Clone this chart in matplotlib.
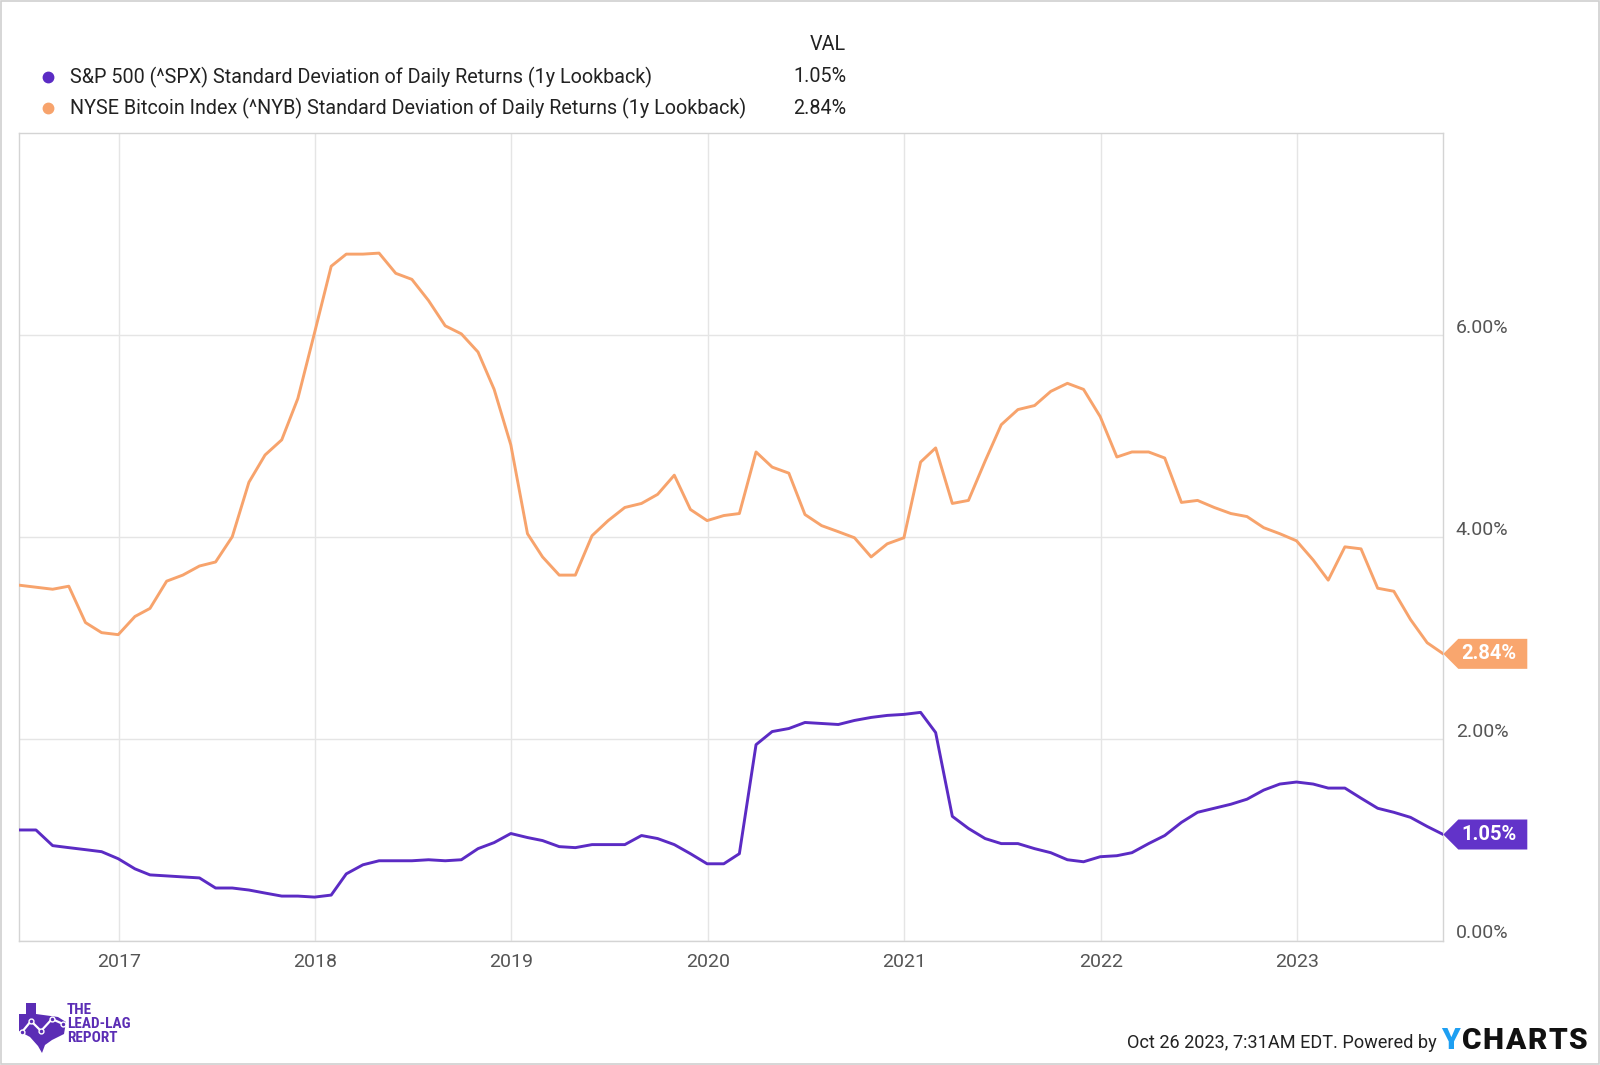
import matplotlib
matplotlib.use('Agg')
import matplotlib.pyplot as plt
import matplotlib.dates as mdates
from matplotlib.patches import Polygon, Rectangle
from matplotlib.lines import Line2D
from matplotlib.transforms import ScaledTranslation
import pandas as pd

plt.rcParams['font.family'] = ['Roboto', 'DejaVu Sans']

# ---------------- data ----------------
dates = pd.date_range('2016-06-30', '2023-09-30', freq='ME')

spx = [1.095, 1.095, 0.94, 0.92, 0.90, 0.88, 0.81, 0.71, 0.65, 0.64, 0.63, 0.62, 0.52, 0.52, 0.50, 0.47, 0.44, 0.44, 0.43, 0.45, 0.66, 0.75,
       0.79, 0.79, 0.79, 0.80, 0.79, 0.80, 0.91, 0.97, 1.06, 1.02, 0.99, 0.93, 0.92, 0.95, 0.95, 0.95, 1.04, 1.01, 0.95, 0.86, 0.76,
       0.76, 0.86, 1.94, 2.07, 2.10, 2.16, 2.15, 2.14, 2.18, 2.21, 2.23, 2.24, 2.26, 2.06, 1.23, 1.11, 1.01, 0.96, 0.96, 0.91, 0.87, 0.80,
       0.78, 0.83, 0.84, 0.87, 0.96, 1.04, 1.17, 1.27, 1.31, 1.35, 1.40, 1.49, 1.55, 1.57, 1.55, 1.51, 1.51, 1.41, 1.31, 1.27, 1.22, 1.13, 1.05]

nyb = [3.52, 3.50, 3.48, 3.51, 3.15, 3.05, 3.03, 3.21, 3.29, 3.56, 3.62, 3.71, 3.75, 4.00, 4.54, 4.81, 4.96, 5.37, 6.02, 6.68, 6.80, 6.80,
       6.81, 6.61, 6.55, 6.34, 6.09, 6.01, 5.83, 5.46, 4.91, 4.03, 3.80, 3.62, 3.62, 4.01, 4.16, 4.29, 4.33, 4.42, 4.61, 4.27, 4.16,
       4.21, 4.23, 4.84, 4.69, 4.63, 4.22, 4.11, 4.05, 3.99, 3.80, 3.93, 3.99, 4.74, 4.88, 4.33, 4.36, 4.75, 5.11, 5.26, 5.30, 5.44, 5.52,
       5.46, 5.19, 4.79, 4.84, 4.84, 4.78, 4.34, 4.36, 4.29, 4.23, 4.20, 4.09, 4.03, 3.96, 3.77, 3.57, 3.90, 3.88, 3.49, 3.46, 3.18, 2.95, 2.84]

series_names = ["S&P 500 (^SPX) Standard Deviation of Daily Returns (1y Lookback)",
                "NYSE Bitcoin Index (^NYB) Standard Deviation of Daily Returns (1y Lookback)"]
last_labels = ["1.05%", "2.84%"]
year_ticks = [2017, 2018, 2019, 2020, 2021, 2022, 2023]
year_labels = ["2017", "2018", "2019", "2020", "2021", "2022", "2023"]
y_ticks = [0, 2, 4, 6]
y_labels = ["0.00%", "2.00%", "4.00%", "6.00%"]

PURPLE = '#5B2BC4'
PURPLE_BOX = '#6233C9'
ORANGE = '#F7A36C'
ORANGE_BOX = '#F9A66E'
GRID = '#e5e5e5'
TXT = '#555555'

# ---------------- figure ----------------
W, H = 1600, 1065
fig = plt.figure(figsize=(16, 10.65), dpi=100)
fig.patch.set_facecolor('white')


def fx(px):
    return px / W


def fy(py):
    return 1 - py / H


L, R, T, B = 19.3, 1443.3, 133.0, 940.5
ax = fig.add_axes([fx(L), fy(B), (R - L) / W, (B - T) / H])

ax.plot(dates, nyb, color=ORANGE, lw=2.1, solid_joinstyle='round', zorder=3)
ax.plot(dates, spx, color=PURPLE, lw=2.1, solid_joinstyle='round', zorder=3)

ax.set_xlim(dates[0], dates[-1])
ax.set_ylim(0, 8)

ax.set_xticks([pd.Timestamp(f'{y}-01-01') for y in year_ticks])
ax.set_xticklabels(year_labels)
ax.set_yticks(y_ticks)
ax.set_yticklabels(y_labels)
ax.yaxis.tick_right()
ax.tick_params(axis='both', length=0, labelsize=14, labelcolor=TXT)
ax.tick_params(axis='x', pad=9)
ax.tick_params(axis='y', pad=9)
for lab in ax.get_yticklabels():
    lab.set_transform(lab.get_transform() + ScaledTranslation(0, 9 / 100, fig.dpi_scale_trans))

ax.grid(True, color=GRID, lw=1)
ax.set_axisbelow(True)
for s in ax.spines.values():
    s.set_color('#d4d4d4')
    s.set_linewidth(1)

# ---------------- end-value tags ----------------
renderer = fig.canvas.get_renderer()
inv = fig.transFigure.inverted()
for vals, lab, col in [(spx, last_labels[0], PURPLE_BOX), (nyb, last_labels[1], ORANGE_BOX)]:
    x0, y0 = ax.transData.transform((mdates.date2num(dates[-1]), vals[-1]))
    pts = [(x0, y0), (x0 + 15, y0 + 15), (x0 + 84, y0 + 15), (x0 + 84, y0 - 15), (x0 + 15, y0 - 15)]
    fpts = [tuple(inv.transform(p)) for p in pts]
    fig.add_artist(Polygon(fpts, closed=True, facecolor=col, edgecolor='none',
                           transform=fig.transFigure, zorder=5))
    cx, cy = inv.transform((x0 + 46, y0))
    fig.text(cx, cy, lab, color='white', fontsize=14.5, fontweight='bold',
             ha='center', va='center', zorder=6)

# ---------------- legend ----------------
target_w = 675.0
probe = fig.text(0, 0, series_names[1], fontsize=16)
w = probe.get_window_extent(renderer).width
leg_fs = 16 * target_w / w
probe.remove()

fig.text(fx(846), fy(45), "VAL", fontsize=leg_fs, color='#222222', ha='right', va='center')
for i, (name, val, col) in enumerate(zip(series_names, last_labels, [PURPLE, ORANGE])):
    yy = [77, 108.5][i]
    fig.add_artist(Line2D([fx(48)], [fy(yy)], marker='o', markersize=7.5, color=col,
                          markeredgecolor=col, transform=fig.transFigure))
    fig.text(fx(70), fy(yy), name, fontsize=leg_fs, color='#222222', ha='left', va='center')
    fig.text(fx(846), fy(yy), val, fontsize=leg_fs, color='#222222', ha='right', va='center')

# ---------------- footer ----------------
foot = "Oct 26 2023, 7:31AM EDT. Powered by"
probe = fig.text(0, 0, foot, fontsize=14)
w = probe.get_window_extent(renderer).width
foot_fs = 14 * 312.0 / w
probe.remove()
fig.text(fx(1437), fy(1043), foot, fontsize=foot_fs, color='#222222', ha='right', va='center')

ty = fig.text(fx(1441), fy(1041), "Y", fontsize=21.5, fontweight='heavy', color='#1E9FF2',
              ha='left', va='center')
ext = ty.get_window_extent(renderer)
cur = ext.x1 + 2
for ch in "CHARTS":
    t = fig.text(inv.transform((cur, 0))[0], fy(1041), ch, fontsize=21.5, fontweight='heavy',
                 color='#111111', ha='left', va='center')
    cur = t.get_window_extent(renderer).x1 + 1.5

# ---------------- lead-lag logo ----------------
logo_px = [(26, 1003), (36, 1003), (36, 1014), (58, 1017), (66, 1022), (64, 1034), (52, 1040),
           (45, 1045), (42, 1053), (38, 1046), (30, 1037), (19, 1031), (19, 1014), (26, 1014)]
fig.add_artist(Polygon([(fx(a), fy(b)) for a, b in logo_px], closed=True, facecolor='#5B2DB5',
                       edgecolor='none', transform=fig.transFigure))
lx = [fx(a) for a in (22, 31, 41, 52, 63)]
lyv = [fy(b) for b in (1032, 1021, 1031, 1019, 1024)]
fig.add_artist(Line2D(lx, lyv, color='white', lw=1.6, marker='o', markersize=3.5,
                      markerfacecolor='#5B2DB5', markeredgecolor='white', transform=fig.transFigure))
for txt, yy in [("THE", 1010), ("LEAD-LAG", 1024), ("REPORT", 1038)]:
    fig.text(fx(67), fy(yy), txt, fontsize=11, fontweight='bold', color='#5B2DB5',
             ha='left', va='center', family=['Roboto Condensed', 'Roboto', 'DejaVu Sans'])

# outer frame
fig.add_artist(Rectangle((0.0005, 0.0005), 0.999, 0.999, transform=fig.transFigure,
                         fill=False, edgecolor='#d0d0d0', lw=1.2))

fig.savefig('out.png', dpi=100, facecolor='white')
